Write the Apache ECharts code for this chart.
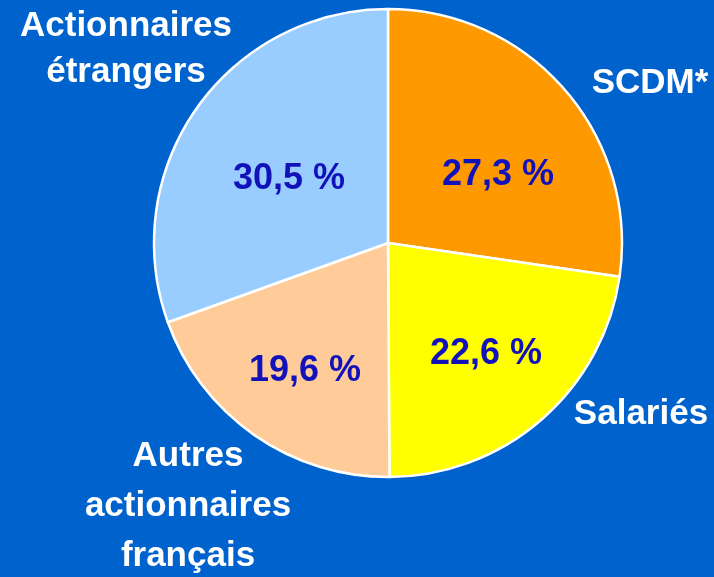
<!DOCTYPE html>
<html>
<head>
<meta charset="utf-8">
<script src="https://cdn.jsdelivr.net/npm/echarts@6/dist/echarts.min.js"></script>
<style>
  html, body { margin: 0; padding: 0; background: #0062cc; }
  #main { width: 714px; height: 577px; }
</style>
</head>
<body>
<div id="main"></div>
<script>
// données du graphique
var categories = ['SCDM*', 'Salariés', 'Autres\nactionnaires\nfrançais', 'Actionnaires\nétrangers'];
var parts = [27.3, 22.6, 19.6, 30.5];
var couleurs = ['#ff9900', '#ffff00', '#ffcc99', '#99ccff'];

// où poser les étiquettes (centre du texte)
var posPourcent = [[498, 175], [486, 354], [305, 371], [289, 179]];
var posNom = [[650, 83], [641, 414], [188, 506], [126, 49]];
var interligne = [40, 40, 50, 46];

var chart = echarts.init(document.getElementById('main'));

var donnees = categories.map(function (c, i) {
  return { name: c, value: parts[i], itemStyle: { color: couleurs[i] } };
});

var option = {
  backgroundColor: '#0062cc',
  animation: false,
  series: [
    {
      // les parts + pourcentages
      type: 'pie',
      center: [388, 243],
      radius: 234,
      startAngle: 90,
      clockwise: true,
      silent: true,
      data: donnees,
      itemStyle: { borderColor: '#ffffff', borderWidth: 2.5 },
      label: {
        show: true,
        position: 'inside',
        formatter: function (p) { return p.value.toFixed(1).replace('.', ',') + ' %'; },
        color: '#1212bb',
        fontFamily: '"Liberation Sans", Arial, sans-serif',
        fontWeight: 'bold',
        fontSize: 36
      },
      labelLine: { show: false },
      labelLayout: function (p) {
        var q = posPourcent[p.dataIndex];
        return { x: q[0], y: q[1], align: 'center', verticalAlign: 'middle' };
      }
    },
    {
      // noms des actionnaires, autour du camembert
      type: 'pie',
      center: [388, 243],
      radius: 234,
      startAngle: 90,
      silent: true,
      data: categories.map(function (c, i) {
        return { name: c, value: parts[i], label: { lineHeight: interligne[i] } };
      }),
      itemStyle: { color: 'transparent', borderWidth: 0 },
      label: {
        show: true,
        position: 'inside',
        overflow: 'none',
        formatter: '{b}',
        color: '#ffffff',
        fontFamily: '"Liberation Sans", Arial, sans-serif',
        fontWeight: 'bold',
        fontSize: 35,
        align: 'center'
      },
      labelLine: { show: false },
      labelLayout: function (p) {
        var q = posNom[p.dataIndex];
        return { x: q[0], y: q[1], align: 'center', verticalAlign: 'middle' };
      }
    }
  ]
};

chart.setOption(option);
</script>
</body>
</html>
